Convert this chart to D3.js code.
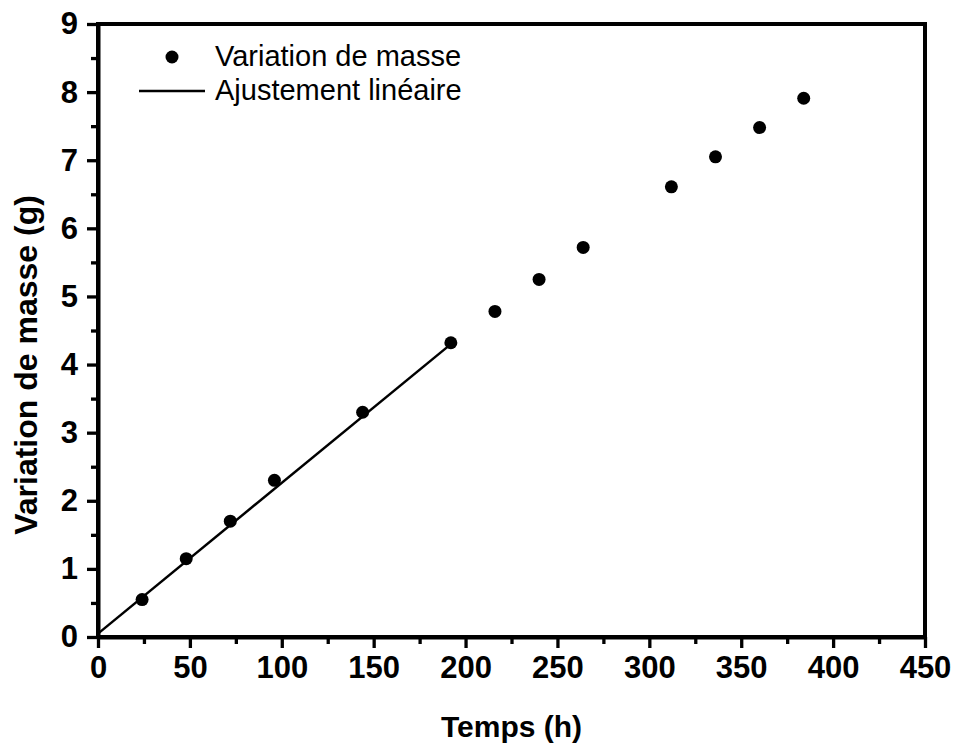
<!DOCTYPE html>
<html>
<head>
<meta charset="utf-8">
<script src="https://cdn.jsdelivr.net/npm/d3@7"></script>
<style>
  body { margin: 0; background: #fff; }
  svg { display: block; font-family: "Liberation Sans", Arial, sans-serif; }
</style>
</head>
<body>
<div id="chart"></div>
<script>
// data
const hours = [24, 48, 72, 96, 144, 192, 216, 240, 264, 312, 336, 360, 384];
const massGain = [0.55, 1.15, 1.70, 2.30, 3.30, 4.32, 4.78, 5.25, 5.72, 6.61, 7.05, 7.48, 7.91];
const fitHours = [0, 192];
const fitMass = [0.05, 4.30];
const xTicks = [0, 50, 100, 150, 200, 250, 300, 350, 400, 450];
const yTicks = [0, 1, 2, 3, 4, 5, 6, 7, 8, 9];
const xMinor = [25, 75, 125, 175, 225, 275, 325, 375, 425];
const yMinor = [0.5, 1.5, 2.5, 3.5, 4.5, 5.5, 6.5, 7.5, 8.5];
const legendLabels = ["Variation de masse", "Ajustement linéaire"];

const width = 957;
const height = 747;
const margin = { top: 24, right: 32, bottom: 110, left: 98 };
const w = width - margin.left - margin.right;
const h = height - margin.top - margin.bottom;

const svg = d3.select("#chart").append("svg")
    .attr("width", width)
    .attr("height", height);

const g = svg.append("g")
    .attr("transform", `translate(${margin.left},${margin.top})`);

const x = d3.scaleLinear().domain([0, 450]).range([0, w]);
const y = d3.scaleLinear().domain([0, 9]).range([h, 0]);

// minor ticks
g.append("g")
    .attr("transform", `translate(0,${h})`)
    .call(d3.axisBottom(x).tickValues(xMinor).tickSize(7).tickFormat(""))
    .call(a => a.select(".domain").remove());
g.append("g")
    .call(d3.axisLeft(y).tickValues(yMinor).tickSize(7).tickFormat(""))
    .call(a => a.select(".domain").remove());

// major ticks
const xAxis = g.append("g")
    .attr("transform", `translate(0,${h})`)
    .call(d3.axisBottom(x).tickValues(xTicks).tickSize(11).tickPadding(8).tickSizeOuter(0));
const yAxis = g.append("g")
    .call(d3.axisLeft(y).tickValues(yTicks).tickSize(11).tickPadding(9).tickSizeOuter(0));

g.selectAll(".tick line").attr("stroke", "#000").attr("stroke-width", 3.3);
g.selectAll(".tick text")
    .attr("fill", "#000")
    .style("font-size", "31px")
    .style("font-weight", "bold");
xAxis.selectAll(".tick text").attr("dy", "0.72em");

// frame
g.append("rect")
    .attr("width", w)
    .attr("height", h)
    .attr("fill", "none")
    .attr("stroke", "#000")
    .attr("stroke-width", 4);
g.selectAll(".domain").attr("stroke", "#000").attr("stroke-width", 4);

// linear fit
const line = d3.line().x(d => x(d[0])).y(d => y(d[1]));
g.append("path")
    .datum(d3.zip(fitHours, fitMass))
    .attr("d", line)
    .attr("fill", "none")
    .attr("stroke", "#000")
    .attr("stroke-width", 2.5);

// points
g.selectAll(".pt")
    .data(d3.zip(hours, massGain))
    .enter()
    .append("circle")
    .classed("pt", true)
    .attr("cx", d => x(d[0]))
    .attr("cy", d => y(d[1]))
    .attr("r", 6.5)
    .attr("fill", "#000");

// legend
const leg = svg.append("g");
leg.append("circle").attr("cx", 172).attr("cy", 57).attr("r", 6.5).attr("fill", "#000");
leg.append("line")
    .attr("x1", 139).attr("x2", 205).attr("y1", 91).attr("y2", 91)
    .attr("stroke", "#000").attr("stroke-width", 2.5);
leg.selectAll("text")
    .data(legendLabels)
    .enter()
    .append("text")
    .attr("x", 215)
    .attr("y", (d, i) => 66 + i * 34)
    .style("font-size", "29px")
    .text(d => d);

// axis titles
svg.append("text")
    .attr("x", margin.left + w / 2)
    .attr("y", 737)
    .attr("text-anchor", "middle")
    .style("font-size", "30px")
    .style("font-weight", "bold")
    .text("Temps (h)");

svg.append("text")
    .attr("transform", "translate(37,365) rotate(-90)")
    .attr("text-anchor", "middle")
    .style("font-size", "32px")
    .style("font-weight", "bold")
    .text("Variation de masse (g)");
</script>
</body>
</html>
